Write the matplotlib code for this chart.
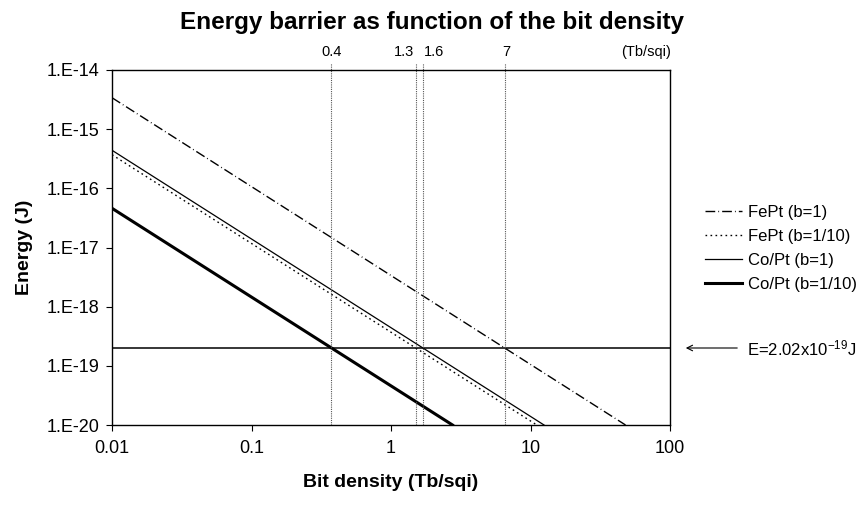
import matplotlib
matplotlib.use("Agg")
import matplotlib.pyplot as plt

plt.rcParams['font.family'] = ['Liberation Sans', 'DejaVu Sans']
plt.rcParams['mathtext.default'] = 'regular'

# data (start at 0.01, end where line hits 1e-20)
series_names = ["FePt (b=1)", "FePt (b=1/10)", "Co/Pt (b=1)", "Co/Pt (b=1/10)"]
fept_b1_x = [0.01, 48.0]
fept_b1_y = [3.4e-15, 1e-20]
fept_b10_x = [0.01, 11.1]
fept_b10_y = [3.7e-16, 1e-20]
copt_b1_x = [0.01, 12.5]
copt_b1_y = [4.4e-16, 1e-20]
copt_b10_x = [0.01, 2.76]
copt_b10_y = [4.6e-17, 1e-20]

e_limit = 2.02e-19
cross_x = [0.372, 1.50, 1.69, 6.56]
cross_labels = ["0.4", "1.3", "1.6", "7"]

x_ticks = [0.01, 0.1, 1, 10, 100]
x_ticklabels = ["0.01", "0.1", "1", "10", "100"]
y_ticks = [1e-20, 1e-19, 1e-18, 1e-17, 1e-16, 1e-15, 1e-14]
y_ticklabels = ["1.E-20", "1.E-19", "1.E-18", "1.E-17", "1.E-16", "1.E-15", "1.E-14"]

W, H = 863, 509
fig = plt.figure(figsize=(W / 100, H / 100), dpi=100)
ax = fig.add_axes([112 / W, 1 - 425 / H, 558 / W, 355 / H])

ax.plot(fept_b1_x, fept_b1_y, color='black', lw=1.0, dashes=(7, 2.2, 0.6, 2.2), label=series_names[0])
ax.plot(fept_b10_x, fept_b10_y, color='black', lw=1.0, dashes=(1.2, 2.4), label=series_names[1])
ax.plot(copt_b1_x, copt_b1_y, color='black', lw=0.9, label=series_names[2])
ax.plot(copt_b10_x, copt_b10_y, color='black', lw=2.2, label=series_names[3])

ax.axhline(e_limit, color='black', lw=1.1)
for x in cross_x:
    ax.axvline(x, ymin=0, ymax=1.02, clip_on=False, color='#555555', lw=0.8, dashes=(1, 1))

ax.set_xscale('log')
ax.set_yscale('log')
ax.set_xlim(0.01, 100)
ax.set_ylim(1e-20, 1e-14)
ax.set_xticks(x_ticks)
ax.set_xticklabels(x_ticklabels)
ax.set_yticks(y_ticks)
ax.set_yticklabels(y_ticklabels)
ax.minorticks_off()
ax.tick_params(labelsize=13, length=4, width=0.8, direction='out')
ax.tick_params(axis='x', pad=7)
ax.tick_params(axis='y', pad=5)
for sp in ax.spines.values():
    sp.set_linewidth(1.0)

ax.set_xlabel("Bit density (Tb/sqi)", fontsize=14, fontweight='bold', labelpad=12)
ax.set_ylabel("Energy (J)", fontsize=14, fontweight='bold', labelpad=10)

fig.text(0.5, 1 - 23 / H, "Energy barrier as function of the bit density",
         ha='center', va='center', fontsize=17.5, fontweight='bold')

# density labels above the plot
top_y = 1 - 52 / H
aligns = ['center', 'right', 'left', 'center']
shift = [0, -0.012, 0.012, 0.01]
for x, lab, ha, dx in zip(cross_x, cross_labels, aligns, shift):
    fx = ax.transData.transform((x, 1e-17))[0] / W + dx * 0.1
    fig.text(fx, top_y, lab, ha=ha, va='center', fontsize=10.5)
fig.text(646 / W, top_y, "(Tb/sqi)", ha='center', va='center', fontsize=10.5)

fig.legend(loc='center left', bbox_to_anchor=(705 / W, 1 - 248.5 / H), frameon=False,
           fontsize=12, handlelength=2.2, handletextpad=0.4, labelspacing=0.55,
           borderpad=0, borderaxespad=0)

ey = 1 - 348 / H
fig.text(747 / W, ey, "E=2.02x10$^{-19}$J", ha='left', va='center', fontsize=12)
ax.annotate('', xy=(683 / W, ey), xytext=(740 / W, ey), xycoords='figure fraction',
            textcoords='figure fraction', arrowprops=dict(arrowstyle='->', lw=0.8, color='black'))

fig.savefig("out.png", dpi=100)
